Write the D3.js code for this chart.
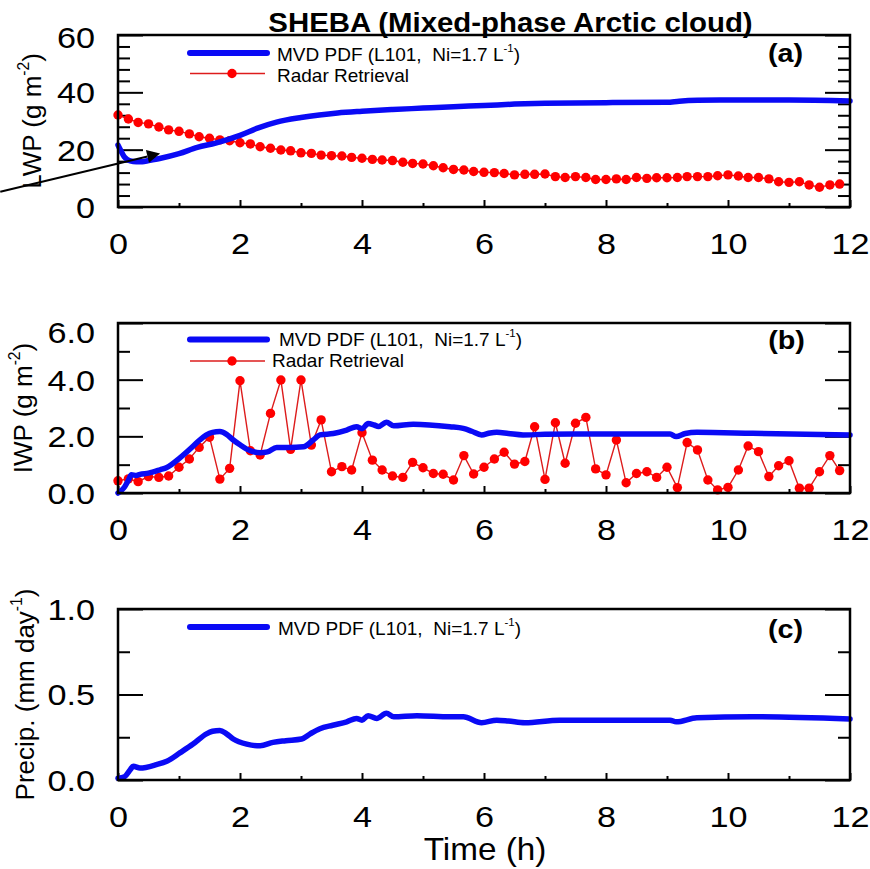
<!DOCTYPE html>
<html>
<head>
<meta charset="utf-8">
<script src="https://cdn.jsdelivr.net/npm/d3@7"></script>
<style>
  html, body { margin: 0; padding: 0; background: #fff; }
  svg { display: block; }
  text { font-family: "Liberation Sans", Arial, Helvetica, sans-serif; fill: #000; }
</style>
</head>
<body>
<svg id="chart" width="870" height="869"></svg>
<script>
// ---------- data ----------
const hourTicks = [0, 2, 4, 6, 8, 10, 12];
const hourMinorTicks = [1, 3, 5, 7, 9, 11];

const lwpTicks = [0, 20, 40, 60];
const lwpMinorTicks = [4, 8, 12, 16, 24, 28, 32, 36, 44, 48, 52, 56];
const iwpTicks = [0, 2, 4, 6];
const iwpMinorTicks = [1, 3, 5];
const precipTicks = [0, 0.5, 1];
const precipMinorTicks = [0.25, 0.75];

// radar retrieval, every 10 minutes
const radarTime = [
  0.00, 0.17, 0.33, 0.50, 0.67, 0.83, 1.00, 1.17, 1.33, 1.50, 1.67, 1.83,
  2.00, 2.17, 2.33, 2.50, 2.67, 2.83, 3.00, 3.17, 3.33, 3.50, 3.67, 3.83,
  4.00, 4.17, 4.33, 4.50, 4.67, 4.83, 5.00, 5.17, 5.33, 5.50, 5.67, 5.83,
  6.00, 6.17, 6.33, 6.50, 6.67, 6.83, 7.00, 7.17, 7.33, 7.50, 7.67, 7.83,
  8.00, 8.17, 8.33, 8.50, 8.67, 8.83, 9.00, 9.17, 9.33, 9.50, 9.67, 9.83,
  10.00, 10.17, 10.33, 10.50, 10.67, 10.83, 11.00, 11.17, 11.33, 11.50, 11.67, 11.83
];
const radarLWP = [
  32.1, 30.7, 29.5, 29.0, 27.9, 26.9, 26.4, 25.5, 24.5, 24.0, 23.4, 23.1,
  22.4, 22.0, 21.0, 20.5, 19.9, 19.6, 18.9, 18.7, 18.1, 17.9, 17.8, 17.3,
  17.0, 16.6, 16.4, 16.2, 15.6, 15.2, 15.0, 14.4, 13.7, 13.1, 12.9, 12.4,
  12.1, 12.0, 11.7, 11.2, 11.4, 11.4, 11.5, 10.6, 10.3, 10.6, 10.3, 9.6,
  9.6, 9.8, 9.6, 10.3, 10.0, 10.2, 10.2, 10.3, 10.6, 10.6, 10.6, 10.9,
  11.2, 10.8, 10.3, 10.3, 9.8, 8.8, 8.6, 8.8, 7.7, 6.9, 7.7, 8.0
];
const radarIWP = [
  0.43, 0.50, 0.40, 0.58, 0.55, 0.60, 0.91, 1.20, 1.61, 1.97, 0.49, 0.87,
  3.96, 1.49, 1.34, 2.81, 3.99, 1.54, 3.99, 1.69, 2.58, 0.75, 0.93, 0.81,
  2.13, 1.16, 0.81, 0.60, 0.55, 1.08, 0.89, 0.69, 0.66, 0.46, 1.32, 0.67,
  0.91, 1.20, 1.44, 1.02, 1.11, 2.34, 0.48, 2.48, 1.05, 2.46, 2.67, 0.85,
  0.64, 1.87, 0.36, 0.69, 0.75, 0.55, 0.91, 0.19, 1.78, 1.52, 0.46, 0.11,
  0.20, 0.81, 1.66, 1.46, 0.58, 0.96, 1.14, 0.17, 0.17, 0.75, 1.32, 0.79
];

// MVD PDF simulation (L101, Ni=1.7 /L)
const modelLwpTime = [0, 0.05, 0.1, 0.15, 0.2, 0.3, 0.4, 0.5, 0.7, 1.0, 1.3, 1.6, 2.0, 2.3, 2.6,
  3.0, 3.3, 3.6, 4.0, 4.5, 5.0, 5.5, 6.0, 6.5, 7.0, 8.0, 9.0, 9.2, 9.5, 10.0, 11.0, 12.0];
const modelLwp = [21.6, 19.5, 17.6, 16.6, 16.1, 15.8, 15.8, 16.2, 17.0, 18.6, 20.8, 22.3, 25.0, 27.6, 29.6,
  31.2, 32.1, 32.8, 33.4, 34.0, 34.5, 35.0, 35.4, 35.9, 36.2, 36.4, 36.5, 36.9, 37.2, 37.3, 37.3, 37.0];

const modelIwpTime = [0, 0.05, 0.11, 0.17, 0.22, 0.3, 0.36, 0.5, 0.69, 0.8, 1.02, 1.23, 1.34, 1.45, 1.55,
  1.67, 1.78, 1.89, 2.0, 2.11, 2.33, 2.45, 2.6, 2.8, 3.04, 3.2, 3.31, 3.53, 3.75, 3.91, 4.0, 4.1,
  4.2, 4.27, 4.4, 4.52, 4.84, 5.44, 5.66, 5.8, 5.96, 6.1, 6.21, 6.4, 6.64, 7.0, 7.68, 9.05, 9.15,
  9.3, 9.49, 10.4, 12.0];
const modelIwp = [0.0, 0.08, 0.22, 0.45, 0.64, 0.62, 0.66, 0.70, 0.82, 0.90, 1.25, 1.65, 1.87, 2.05, 2.14,
  2.17, 2.07, 1.87, 1.70, 1.55, 1.42, 1.45, 1.61, 1.61, 1.63, 1.87, 2.05, 2.10, 2.22, 2.34, 2.27, 2.45,
  2.40, 2.35, 2.50, 2.37, 2.43, 2.34, 2.28, 2.18, 2.05, 2.12, 2.14, 2.10, 2.05, 2.07, 2.08, 2.08, 1.99,
  2.10, 2.14, 2.11, 2.05];

const modelPrecipTime = [0, 0.11, 0.2, 0.25, 0.36, 0.63, 0.8, 1.02, 1.23, 1.45, 1.55, 1.67, 1.78, 1.89,
  2.11, 2.33, 2.54, 2.75, 3.01, 3.15, 3.31, 3.52, 3.75, 3.91, 4.0, 4.1, 4.24, 4.4, 4.52, 4.9, 5.44,
  5.66, 5.96, 6.21, 6.4, 6.67, 7.24, 9.05, 9.15, 9.49, 10.4, 12.0];
const modelPrecip = [0.01, 0.02, 0.06, 0.08, 0.07, 0.09, 0.11, 0.16, 0.21, 0.27, 0.285, 0.29, 0.27, 0.24,
  0.21, 0.20, 0.22, 0.23, 0.24, 0.27, 0.30, 0.32, 0.34, 0.36, 0.35, 0.376, 0.36, 0.39, 0.37, 0.376, 0.37,
  0.37, 0.335, 0.35, 0.345, 0.335, 0.35, 0.35, 0.34, 0.364, 0.37, 0.357];

// annotation arrow in panel (a), in data units (hours, g m-2)
const arrowFrom = [-1.93, 5.3];
const arrowTo = [0.69, 18.7];

// ---------- layout ----------
const BLUE = "#0a0af5";
const RED = "#ff0000";
const RED_LINE = "#dd1c1c";
const svg = d3.select("#chart");
const plotLeft = 118, plotRight = 850;
const x = d3.scaleLinear().domain([0, 12]).range([plotLeft, plotRight]);

// text helper: horizontally stretched text with optional superscript parts
function addText(parent, px, py, parts, o) {
  const g = parent.append("g")
    .attr("transform", `translate(${px},${py})` + (o.sx ? ` scale(${o.sx},1)` : "") + (o.rotate ? ` rotate(${o.rotate})` : ""));
  const t = g.append("text")
    .attr("text-anchor", o.anchor || "start")
    .style("font-size", o.size + "px")
    .style("font-weight", o.weight || "normal")
    .style("white-space", "pre");
  let raised = false;
  parts.forEach(p => {
    const sup = Array.isArray(p);
    const str = sup ? p[0] : p;
    const ts = t.append("tspan").text(str);
    if (sup) {
      ts.style("font-size", (o.size * 0.6) + "px").attr("dy", -o.size * 0.45);
      raised = true;
    } else if (raised) {
      ts.attr("dy", o.size * 0.45);
      raised = false;
    }
  });
  return g;
}

function styleTicks(axisG) {
  axisG.select(".domain").remove();
  axisG.selectAll(".tick line").attr("stroke", "#000").attr("stroke-width", 2);
}

const panels = [
  { id: "a", top: 35, bottom: 207, domain: [0, 60], major: lwpTicks, minor: lwpMinorTicks, fmt: d3.format("d"),
    topShift: 2, ytitle: ["LWP (g m", ["-2"], ")"], ytitleX: 40.5,
    model: [modelLwpTime, modelLwp], radar: radarLWP,
    legendY: 53, legendTextX: 277, legendBase: 60.5, radarLegendY: 73.5, radarTextX: 277, radarBase: 82,
    tagBase: 61.5, tagX: 785.5 },
  { id: "b", top: 323, bottom: 493, domain: [0, 6], major: iwpTicks, minor: iwpMinorTicks, fmt: d3.format(".1f"),
    topShift: 9, ytitle: ["IWP (g m", ["-2"], ")"], ytitleX: 32,
    model: [modelIwpTime, modelIwp], radar: radarIWP,
    legendY: 339.5, legendTextX: 279, legendBase: 346, radarLegendY: 361, radarTextX: 272, radarBase: 367,
    tagBase: 348.5, tagX: 786.5 },
  { id: "c", top: 609, bottom: 780, domain: [0, 1], major: precipTicks, minor: precipMinorTicks, fmt: d3.format(".1f"),
    topShift: 0, ytitle: ["Precip. (mm day", ["-1"], ")"], ytitleX: 33.5,
    model: [modelPrecipTime, modelPrecip], radar: null,
    legendY: 627, legendTextX: 278, legendBase: 635,
    tagBase: 638, tagX: 785.5 }
];

panels.forEach(p => {
  const y = d3.scaleLinear().domain(p.domain).range([p.bottom, p.top]);
  const g = svg.append("g").attr("class", "panel-" + p.id);

  // left axis: minor then major ticks, pointing inward
  styleTicks(g.append("g").attr("transform", `translate(${plotLeft},0)`)
    .call(d3.axisLeft(y).tickValues(p.minor).tickSize(-12).tickFormat("")));
  const left = g.append("g").attr("transform", `translate(${plotLeft},0)`)
    .call(d3.axisLeft(y).tickValues(p.major).tickSize(-25).tickPadding(23).tickFormat(p.fmt));
  styleTicks(left);
  left.selectAll(".tick text")
    .attr("x", 0).attr("dy", "0.36em")
    .attr("transform", d => `translate(-23,${d === p.domain[1] ? p.topShift : 0}) scale(1.18,1)`)
    .style("font-size", "29px").attr("fill", "#000")
    .style("font-family", '"Liberation Sans", Arial, Helvetica, sans-serif');

  // right axis mirrors the left ticks
  styleTicks(g.append("g").attr("transform", `translate(${plotRight},0)`)
    .call(d3.axisRight(y).tickValues(p.minor).tickSize(-12).tickFormat("")));
  styleTicks(g.append("g").attr("transform", `translate(${plotRight},0)`)
    .call(d3.axisRight(y).tickValues(p.major).tickSize(-25).tickFormat("")));

  // bottom axis
  styleTicks(g.append("g").attr("transform", `translate(0,${p.bottom})`)
    .call(d3.axisBottom(x).tickValues(hourMinorTicks).tickSize(-4).tickFormat("")));
  const bottom = g.append("g").attr("transform", `translate(0,${p.bottom})`)
    .call(d3.axisBottom(x).tickValues(hourTicks).tickSize(-7).tickFormat(d3.format("d")));
  styleTicks(bottom);
  bottom.selectAll(".tick text")
    .attr("y", 0).attr("dy", null)
    .attr("transform", "translate(0,47) scale(1.14,1)")
    .style("font-size", "30px").attr("fill", "#000")
    .style("font-family", '"Liberation Sans", Arial, Helvetica, sans-serif');

  // radar retrieval: thin line with dots
  if (p.radar) {
    const pts = radarTime.map((t, i) => [t, p.radar[i]]);
    g.append("path")
      .attr("d", d3.line().x(d => x(d[0])).y(d => y(d[1]))(pts))
      .attr("fill", "none").attr("stroke", RED_LINE).attr("stroke-width", 1.4);
    g.append("g").selectAll("circle").data(pts).join("circle")
      .attr("cx", d => x(d[0])).attr("cy", d => y(d[1])).attr("r", 4.7)
      .attr("fill", RED);
  }

  // model curve
  const mpts = p.model[0].map((t, i) => [t, p.model[1][i]]);
  g.append("path")
    .attr("d", d3.line().curve(d3.curveMonotoneX).x(d => x(d[0])).y(d => y(d[1]))(mpts))
    .attr("fill", "none").attr("stroke", BLUE).attr("stroke-width", 5.5)
    .attr("stroke-linejoin", "round").attr("stroke-linecap", "round");

  // frame
  g.append("rect")
    .attr("x", plotLeft).attr("y", p.top)
    .attr("width", plotRight - plotLeft).attr("height", p.bottom - p.top)
    .attr("fill", "none").attr("stroke", "#000").attr("stroke-width", 2.5);

  // legend
  g.append("line").attr("x1", 190).attr("x2", 267).attr("y1", p.legendY).attr("y2", p.legendY)
    .attr("stroke", BLUE).attr("stroke-width", 6).attr("stroke-linecap", "round");
  addText(g, p.legendTextX, p.legendBase, ["MVD PDF (L101,  Ni=1.7 L", ["-1"], ")"], { size: 19 });
  if (p.radar) {
    g.append("line").attr("x1", 190).attr("x2", 265).attr("y1", p.radarLegendY).attr("y2", p.radarLegendY)
      .attr("stroke", RED_LINE).attr("stroke-width", 1.4);
    g.append("circle").attr("cx", 232).attr("cy", p.radarLegendY).attr("r", 4.7).attr("fill", RED);
    addText(g, p.radarTextX, p.radarBase, ["Radar Retrieval"], { size: 19 });
  }

  // panel tag
  addText(g, p.tagX, p.tagBase, [`(${p.id})`], { size: 25, weight: "bold", anchor: "middle", sx: 1.15 });

  // y-axis title
  addText(g, p.ytitleX, (p.top + p.bottom) / 2, p.ytitle, { size: 26, anchor: "middle", rotate: -90 });

  // arrow annotation in panel (a)
  if (p.id === "a") {
    const x0 = x(arrowFrom[0]), y0 = y(arrowFrom[1]);
    const x1 = x(arrowTo[0]), y1 = y(arrowTo[1]);
    const ang = Math.atan2(y1 - y0, x1 - x0);
    const headLen = 13, headHalf = 6.5;
    const bx = x1 - headLen * Math.cos(ang), by = y1 - headLen * Math.sin(ang);
    svg.append("line").attr("x1", x0).attr("y1", y0).attr("x2", bx).attr("y2", by)
      .attr("stroke", "#000").attr("stroke-width", 2);
    svg.append("path")
      .attr("d", `M${x1},${y1}L${bx - headHalf * Math.sin(ang)},${by + headHalf * Math.cos(ang)}L${bx + headHalf * Math.sin(ang)},${by - headHalf * Math.cos(ang)}Z`)
      .attr("fill", "#000");
  }
});

// main title and x-axis title
addText(svg, 510.5, 32, ["SHEBA (Mixed-phase Arctic cloud)"], { size: 28, weight: "bold", anchor: "middle", sx: 1.05 });
addText(svg, 485, 860, ["Time (h)"], { size: 32, anchor: "middle", sx: 1.04 });
</script>
</body>
</html>
